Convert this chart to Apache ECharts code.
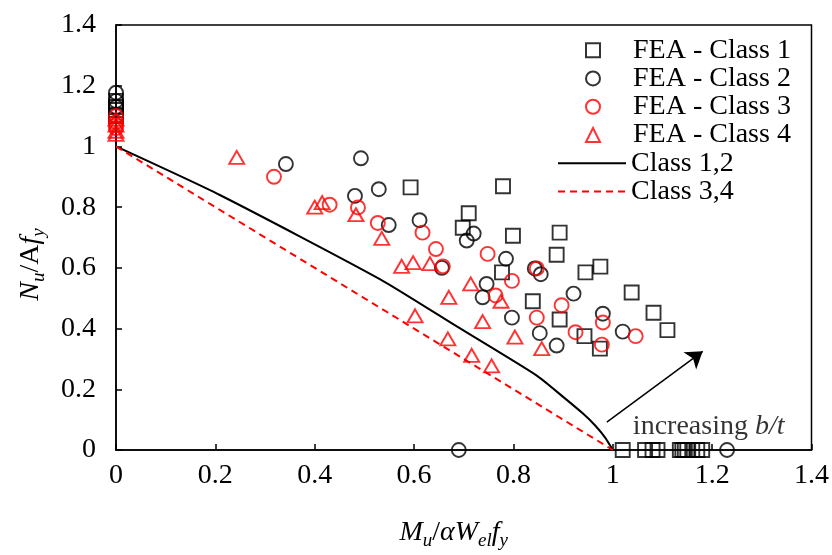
<!DOCTYPE html>
<html>
<head>
<meta charset="utf-8">
<script src="https://cdn.jsdelivr.net/npm/echarts@6/dist/echarts.min.js"></script>
<style>
  html, body { margin: 0; padding: 0; background: #fff; }
  #chart { width: 832px; height: 555px; }
</style>
</head>
<body>
<div id="chart"></div>
<script>
// FEA results, [M/Mel, N/Npl]
const class1Pts = [
  [0, 1.15], [0, 1.13], [0, 1.12], [0, 1.10],
  [0.593, 0.865], [0.779, 0.869], [0.710, 0.78], [0.698, 0.732], [0.799, 0.706],
  [0.893, 0.716], [0.887, 0.643], [0.777, 0.585], [0.945, 0.585], [0.975, 0.604],
  [0.839, 0.49], [1.038, 0.519], [0.893, 0.43], [1.082, 0.452], [1.11, 0.395],
  [0.943, 0.375], [0.974, 0.334],
  [1.02, 0], [1.065, 0], [1.08, 0], [1.09, 0], [1.135, 0], [1.14, 0], [1.145, 0],
  [1.15, 0], [1.16, 0], [1.17, 0], [1.18, 0]
]
const class2Pts = [
  [0, 1.177], [0, 1.15], [0, 1.13],
  [0.342, 0.942], [0.493, 0.961], [0.481, 0.837], [0.529, 0.859], [0.549, 0.741],
  [0.611, 0.757], [0.656, 0.60], [0.706, 0.69], [0.72, 0.713], [0.785, 0.63],
  [0.746, 0.547], [0.738, 0.503], [0.843, 0.598], [0.855, 0.579], [0.797, 0.436],
  [0.853, 0.385], [0.887, 0.344], [0.921, 0.515], [0.98, 0.449], [1.02, 0.39],
  [0.69, 0], [1.23, 0]
]
const class3Pts = [
  [0, 1.10], [0, 1.08], [0, 1.07], [0, 1.06],
  [0.318, 0.9], [0.43, 0.808], [0.487, 0.799], [0.527, 0.748], [0.617, 0.716],
  [0.644, 0.662], [0.658, 0.605], [0.748, 0.646], [0.797, 0.557], [0.764, 0.509],
  [0.847, 0.598], [0.847, 0.436], [0.897, 0.477], [0.98, 0.42], [0.925, 0.388],
  [0.978, 0.347], [1.046, 0.375]
]
const class4Pts = [
  [0, 1.09], [0, 1.07], [0, 1.05], [0, 1.04],
  [0.243, 0.964], [0.40, 0.80], [0.415, 0.815], [0.483, 0.775], [0.535, 0.697],
  [0.575, 0.605], [0.598, 0.617], [0.632, 0.614], [0.602, 0.442], [0.67, 0.503],
  [0.668, 0.366], [0.714, 0.547], [0.716, 0.312], [0.738, 0.423], [0.756, 0.277],
  [0.775, 0.49], [0.803, 0.372], [0.857, 0.334]
]
// design curves
const curve12 = [
  [0, 1], [0.209, 0.84], [0.531, 0.563], [0.686, 0.407], [0.847, 0.245],
  [0.9, 0.175], [0.94, 0.12], [0.965, 0.08], [0.985, 0.04], [1, 0]
]
const curve34 = [[0, 1], [1, 0]]
// annotation
const arrowFrom = [0.988, 0.092]
const arrowTo = [1.181, 0.325]
const notePos = [1.193, 0.078]

const ticks = [0, 0.2, 0.4, 0.6, 0.8, 1, 1.2, 1.4]
const markerNames = ["FEA - Class 1", "FEA - Class 2", "FEA - Class 3", "FEA - Class 4"]
const curveNames = ["Class 1,2", "Class 3,4"]

const font = "Liberation Serif"
const chart = echarts.init(document.getElementById("chart"))

const axisCommon = {
  type: "value",
  min: ticks[0],
  max: ticks[ticks.length - 1],
  interval: 0.2,
  axisLine: { lineStyle: { color: "#000", width: 1.5 } },
  axisTick: { inside: true, length: 6, lineStyle: { color: "#000", width: 1.5 } },
  splitLine: { show: false },
  axisLabel: { color: "#000", fontFamily: font, fontSize: 28 }
}

const nameRich = {
  i: { fontFamily: font, fontSize: 28, fontStyle: "italic", color: "#000", lineHeight: 34 },
  n: { fontFamily: font, fontSize: 28, color: "#000", lineHeight: 34 },
  s: { fontFamily: font, fontSize: 19, fontStyle: "italic", color: "#000", lineHeight: 34, verticalAlign: "bottom" }
}

const legendText = { fontFamily: font, fontSize: 28, color: "#000", lineHeight: 28.3 }
const hollow = (c) => ({ color: "rgba(0,0,0,0)", borderColor: c, borderWidth: 1.9 })

const option = {
  animation: false,
  backgroundColor: "#fff",
  grid: {
    left: 116, right: 20, top: 25, bottom: 90,
    show: true, borderColor: "#000", borderWidth: 1.5
  },
  legend: [
    {
      // marker entries
      orient: "vertical",
      left: 585,
      top: 36,
      padding: 0,
      itemWidth: 14,
      itemHeight: 14,
      itemGap: 0,
      data: markerNames,
      textStyle: { ...legendText, padding: [0, 0, 0, 28] }
    },
    {
      // curve entries, symbol hidden so only the line shows
      orient: "vertical",
      left: 557,
      top: 149,
      padding: 0,
      itemWidth: 68,
      itemHeight: 1,
      itemGap: 0,
      itemStyle: { opacity: 0 },
      data: curveNames,
      textStyle: legendText
    }
  ],
  xAxis: {
    ...axisCommon,
    axisLabel: { ...axisCommon.axisLabel, margin: 12 },
    name: "{i|M}{s|u}{n|/}{i|αW}{s|el}{i|f}{s|y}",
    nameLocation: "middle",
    nameGap: 66,
    nameTextStyle: { rich: nameRich, padding: [0, 20, 0, 0] }
  },
  yAxis: {
    ...axisCommon,
    axisLabel: { ...axisCommon.axisLabel, margin: 20 },
    name: "{i|N}{s|u}{n|/A}{i|f}{s|y}",
    nameLocation: "middle",
    nameRotate: 90,
    nameGap: 68,
    nameTextStyle: { rich: nameRich, padding: [0, 54, 0, 0] }
  },
  series: [
    {
      name: "Class 1,2", type: "line", data: curve12, z: 1,
      showSymbol: false, smooth: 0.2,
      lineStyle: { color: "#000", width: 2 }, itemStyle: { color: "#000" }
    },
    {
      name: "Class 3,4", type: "line", data: curve34, z: 1,
      showSymbol: false,
      lineStyle: { color: "#ff0000", width: 2, type: [7, 5] }, itemStyle: { color: "#ff0000" }
    },
    {
      name: "FEA - Class 1", type: "scatter", data: class1Pts, z: 3,
      symbol: "rect", symbolSize: 14, itemStyle: hollow("#000")
    },
    {
      name: "FEA - Class 2", type: "scatter", data: class2Pts, z: 3,
      symbol: "circle", symbolSize: 14, itemStyle: hollow("#000")
    },
    {
      name: "FEA - Class 3", type: "scatter", data: class3Pts, z: 4,
      symbol: "circle", symbolSize: 14, itemStyle: hollow("#ff0000")
    },
    {
      name: "FEA - Class 4", type: "scatter", data: class4Pts, z: 4,
      symbol: "triangle", symbolSize: [15, 13], itemStyle: hollow("#ff0000")
    },
    {
      type: "lines", coordinateSystem: "cartesian2d", z: 5,
      symbol: ["none", "arrow"], symbolSize: [12, 16],
      lineStyle: { color: "#000", width: 1.5, opacity: 1, curveness: 0 },
      data: [{ coords: [arrowFrom, arrowTo] }]
    },
    {
      type: "scatter", z: 5, symbolSize: 0, silent: true,
      data: [notePos],
      label: {
        show: true, position: "inside",
        formatter: "{n|increasing }{i|b/t}",
        rich: {
          n: { fontFamily: font, fontSize: 28, color: "#000" },
          i: { fontFamily: font, fontSize: 28, fontStyle: "italic", color: "#000" }
        }
      }
    }
  ]
}

chart.setOption(option)
</script>
</body>
</html>
